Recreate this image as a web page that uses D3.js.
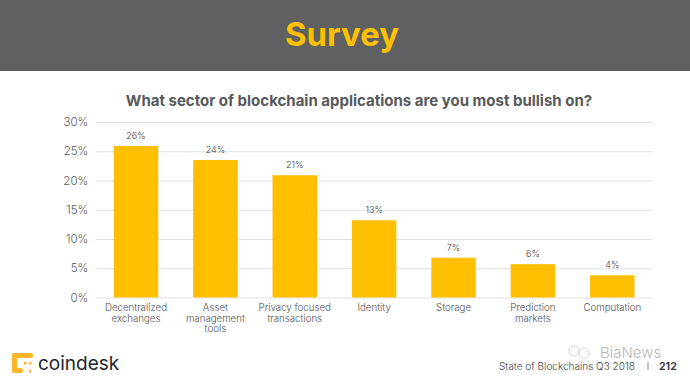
<!DOCTYPE html>
<html>
<head>
<meta charset="utf-8">
<script src="https://cdn.jsdelivr.net/npm/d3@7"></script>
<style>
html, body { margin: 0; padding: 0; background: #fff; }
svg { display: block; }
text { font-family: Inter, Lato, sans-serif; }
</style>
</head>
<body>
<div id="chart"></div>
<script>
const width = 690;
const height = 381;

const categories = ["Decentralized exchanges", "Asset management tools", "Privacy focused transactions", "Identity", "Storage", "Prediction markets", "Computation"];
const values = [25.9, 23.5, 20.9, 13.2, 6.8, 5.7, 3.8];
const valueLabels = ["26%", "24%", "21%", "13%", "7%", "6%", "4%"];
const categoryLines = [["Decentralized", "exchanges"], ["Asset", "management", "tools"], ["Privacy focused", "transactions"], ["Identity"], ["Storage"], ["Prediction", "markets"], ["Computation"]];
const yTicks = [0, 5, 10, 15, 20, 25, 30];

const svg = d3.select("#chart").append("svg")
    .attr("width", width)
    .attr("height", height);

// header band
svg.append("rect")
    .attr("width", width)
    .attr("height", 71)
    .attr("fill", "#5e6062");

svg.append("text")
    .attr("x", 342)
    .attr("y", 46)
    .attr("text-anchor", "middle")
    .attr("font-size", 33)
    .attr("font-weight", 700)
    .attr("fill", "#fcc000")
    .text("Survey");

svg.append("text")
    .attr("x", 359)
    .attr("y", 106)
    .attr("text-anchor", "middle")
    .attr("font-size", 15)
    .attr("font-weight", 700)
    .attr("fill", "#58595b")
    .text("What sector of blockchain applications are you most bullish on?");

const x = d3.scaleBand()
    .domain(categories)
    .range([96.3, 652])
    .paddingInner(0.44)
    .paddingOuter(0.22);

const y = d3.scaleLinear()
    .domain([0, 30])
    .range([297.5, 122]);

// gridlines and y labels
const yAxis = svg.append("g")
    .attr("transform", "translate(96.3,0)")
    .call(d3.axisLeft(y)
        .tickValues(yTicks)
        .tickFormat(d => d + "%")
        .tickSize(-555.7)
        .tickPadding(8));
yAxis.select(".domain").remove();
yAxis.selectAll("line").attr("stroke", "#dfdfdf").attr("stroke-width", 1);
yAxis.selectAll("text")
    .attr("font-size", 11.5)
    .attr("font-weight", 300)
    .attr("fill", "#58595b")
    .style("font-family", "Inter, Lato, sans-serif");

svg.selectAll(".bar")
    .data(categories)
    .enter().append("rect")
    .attr("class", "bar")
    .attr("x", d => x(d))
    .attr("width", x.bandwidth())
    .attr("y", (d, i) => y(values[i]))
    .attr("height", (d, i) => y(0) - y(values[i]))
    .attr("fill", "#fdbf00");

svg.selectAll(".value")
    .data(categories)
    .enter().append("text")
    .attr("class", "value")
    .attr("x", d => x(d) + x.bandwidth() / 2)
    .attr("y", (d, i) => y(values[i]) - 7)
    .attr("text-anchor", "middle")
    .attr("font-size", 9)
    .attr("font-weight", 300)
    .attr("fill", "#404144")
    .text((d, i) => valueLabels[i]);

// category labels, one text per line
categoryLines.forEach(function(lines, i) {
    lines.forEach(function(line, j) {
        svg.append("text")
            .attr("x", x(categories[i]) + x.bandwidth() / 2)
            .attr("y", 311 + j * 10.7)
            .attr("text-anchor", "middle")
            .attr("font-size", 9.7)
            .attr("font-weight", 300)
            .attr("fill", "#505154")
            .text(line);
    });
});

// coindesk logo
const logo = svg.append("g").attr("fill", "#fbb72c");
logo.append("rect").attr("x", 12).attr("y", 353).attr("width", 21).attr("height", 5).attr("rx", 2);
logo.append("rect").attr("x", 12).attr("y", 353).attr("width", 5).attr("height", 20).attr("rx", 2);
logo.append("rect").attr("x", 12).attr("y", 368).attr("width", 11).attr("height", 5).attr("rx", 2);
[[24, 362], [29, 362], [29, 370]].forEach(function(p) {
    logo.append("rect").attr("x", p[0]).attr("y", p[1]).attr("width", 2.5).attr("height", 2.5);
});

svg.append("text")
    .attr("x", 38)
    .attr("y", 370)
    .attr("font-size", 19)
    .attr("font-weight", 400)
    .attr("fill", "#23262b")
    .text("coindesk");

// footer
svg.append("text")
    .attr("x", 499)
    .attr("y", 370)
    .attr("font-size", 10)
    .attr("font-weight", 300)
    .attr("fill", "#404144")
    .text("State of Blockchains Q3 2018");

svg.append("rect")
    .attr("x", 647.5)
    .attr("y", 362)
    .attr("width", 1)
    .attr("height", 8)
    .attr("fill", "#808080");

svg.append("text")
    .attr("x", 659)
    .attr("y", 370)
    .attr("font-size", 10.5)
    .attr("font-weight", 700)
    .attr("fill", "#404040")
    .text("212");

// watermark
const mark = svg.append("g")
    .attr("fill", "none")
    .attr("stroke", "#d4d4d4")
    .attr("stroke-width", 1);
mark.append("circle").attr("cx", 574).attr("cy", 351).attr("r", 5);
mark.append("circle").attr("cx", 584).attr("cy", 353).attr("r", 5);

svg.append("text")
    .attr("x", 600)
    .attr("y", 358)
    .attr("font-size", 15)
    .attr("font-weight", 300)
    .attr("fill", "#b8b8b8")
    .text("BiaNews");
</script>
</body>
</html>
